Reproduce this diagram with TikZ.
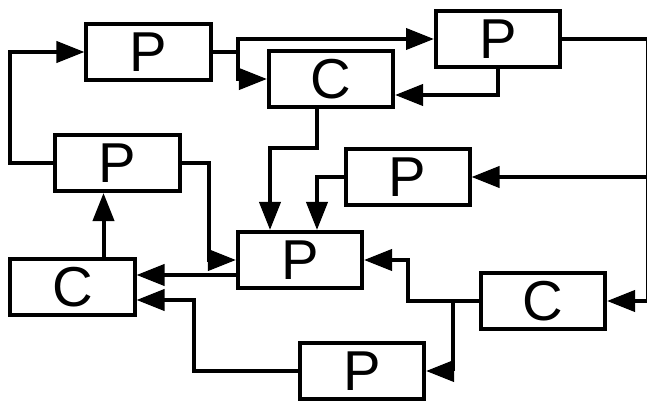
\documentclass[tikz,border=0pt]{standalone}
\usepackage{fontspec}
\setmainfont{Liberation Sans}
\usepackage{tikz}
\usetikzlibrary{calc}
\usetikzlibrary{arrows.meta}
\usetikzlibrary{positioning}

\begin{document}
\begin{tikzpicture}[x=0.03cm, y=-0.03cm, line width=0.12cm,
        blk/.style={draw, rectangle, inner sep=0pt, minimum width=3.72cm, minimum height=1.68cm,
                    font=\fontsize{48}{50}\selectfont},
        >={Triangle[length=0.84cm, width=0.63cm]}]
            % Frame to ensure alignment:
            \useasboundingbox                                                 (0, 0) rectangle (647, 403);
            % Blocks
            \node[blk] (P1) at (148.5,  52) {P};
            \node[blk] (C1) at (331.0,  79) {C};
            \node[blk] (P2) at (498.0,  39) {P};
            \node[blk] (P3) at (117.5, 163) {P};
            \node[blk] (P4) at (407.5, 177) {P};
            \node[blk] (P5) at (300.0, 260) {P};
            \node[blk] (C2) at ( 72.5, 287) {C};
            \node[blk] (C3) at (543.0, 301) {C};
            \node[blk] (P6) at (362.0, 371) {P};
            % Split points
            \coordinate (s1) at ($(P1.east)+(25,0)$);
            \coordinate (s2) at ($(P2.east)+(86,0)$);
            \coordinate (s3) at ($(C3.west)+(-26,0)$);
            % Upper row
            \draw[->] (P3.west) -- ++(-43,0) |- (P1.west);
            \draw     (P1.east) -- (s1);
            \draw[->] (s1) |- (P2.west);
            \draw[->] (s1) |- (C1.west);
            \draw[->] (P2.south) |- ($(C1.east)+(0,16)$);
            % Right side (runs along the edge)
            \draw     (P2.east) -- (s2);
            \draw[->] (s2) |- (P4.east);
            \draw[->] (s2) |- (C3.east);
            % Into the centre
            \draw[->] ($(C1.south)+(-14,0)$) -- ++(0,39) -| ($(P5.north)+(-30,0)$);
            \draw[->] (P4.west) -| ($(P5.north)+(17,0)$);
            \draw[->] (P3.east) -- ++(27,0) |- (P5.west);
            \draw[->] (C3.west) -- ++(-71,0) |- (P5.east);
            \draw[->] (s3) |- (P6.east);
            % Lower left
            \draw[->] ($(P5.west)+(0,15)$) -- ($(C2.east)+(0,-12)$);
            \draw[->] (P6.west) -- ++(-104,0) |- ($(C2.east)+(0,13)$);
            \draw[->] ($(C2.north)+(31,0)$) -- ($(P3.south)+(-14,0)$);
        \end{tikzpicture}
\end{document}
